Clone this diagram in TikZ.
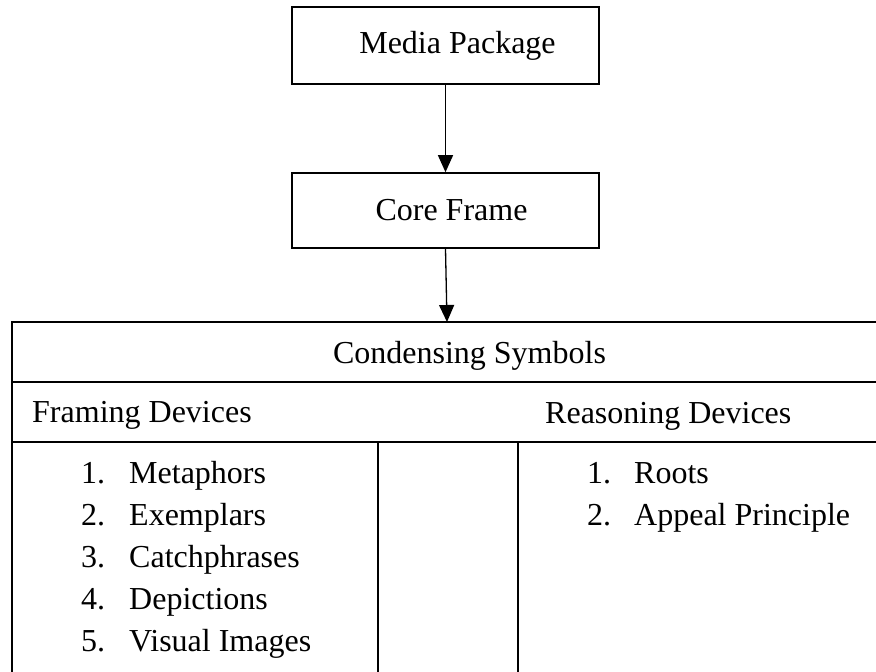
\documentclass[tikz,border=0pt]{standalone}
\usepackage{fontspec}
\setmainfont{Liberation Serif}
\usetikzlibrary{arrows.meta}
\tikzset{
    framebox/.style={draw, line width=1.6pt, minimum width=307pt, minimum height=77pt, inner sep=0pt},
    celltext/.style={inner sep=0pt, anchor=base west},
    flowarrow/.style={line width=1.3pt, -{Triangle[length=17pt, width=15pt]}}
}
\begin{document}
\fontsize{32}{38}\selectfont
\begin{tikzpicture}[x=1pt, y=-1pt]
    \useasboundingbox (0, 0) rectangle (876, 672);
    \node[framebox] (media) at (445.5, 45.5) {\hspace*{24pt}Media Package};
    \node[framebox, minimum height=75pt] (core) at (445.5, 210.5) {\hspace*{12pt}Core Frame};
    \coordinate (tabletop) at (447, 322);
    \draw[flowarrow] (media.south) -- (core.north);
    \draw[flowarrow] (core.south) -- (tabletop);
    % table, cut off at the right and bottom edges
    \draw[line width=1.6pt] (876, 322) -- (12, 322) -- (12, 672);
    \draw[line width=1.6pt] (12, 382) -- (876, 382);
    \draw[line width=1.6pt] (12, 442) -- (876, 442);
    \draw[line width=1.3pt] (378, 442) -- (378, 672);
    \draw[line width=1.3pt] (518, 442) -- (518, 672);
    \node[inner sep=0pt, anchor=base] (condensing) at (469.5, 363) {Condensing Symbols};
    \node[celltext] (framing) at (32, 422) {Framing Devices};
    \node[celltext] (reasoning) at (545, 423) {Reasoning Devices};
    \foreach \t [count=\i] in {Metaphors, Exemplars, Catchphrases, Depictions, Visual Images} {
        \node[celltext] (fnum\i) at (81, 441 + 42*\i) {\i.};
        \node[celltext] (fitem\i) at (129, 441 + 42*\i) {\t};
    }
    \foreach \t [count=\i] in {Roots, Appeal Principle} {
        \node[celltext] (rnum\i) at (587, 441 + 42*\i) {\i.};
        \node[celltext] (ritem\i) at (634, 441 + 42*\i) {\t};
    }
\end{tikzpicture}
\end{document}
